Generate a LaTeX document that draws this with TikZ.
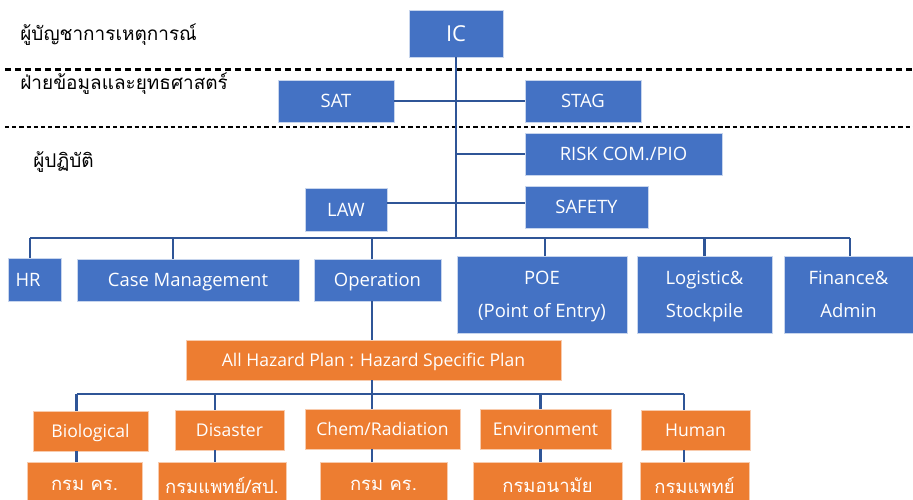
\documentclass[tikz,border=0pt]{standalone}
\usepackage{fontspec}
\setmainfont{Open Sans}
\newfontfamily\thaifont[Script=Thai]{Loma}
\definecolor{unitblue}{HTML}{4472C4}
\definecolor{planorange}{HTML}{ED7D31}
\definecolor{linkblue}{HTML}{2F5597}
\tikzset{
  unit/.style 2 args={fill=unitblue, draw=white!70!unitblue, text=white, align=center, inner sep=1pt,
    text depth=0pt, minimum width=#1cm, minimum height=#2cm, font=\fontsize{10.5}{19}\selectfont},
  plan/.style 2 args={unit={#1}{#2}, fill=planorange, draw=white!60!planorange, font=\fontsize{10}{14}\selectfont},
  dept/.style 2 args={plan={#1}{#2}, font=\thaifont\fontsize{10.5}{14}\selectfont},
  link/.style={draw=linkblue, line width=1.2pt},
  tier/.style={anchor=west, inner sep=0pt, font=\thaifont\fontsize{10.8}{14}\selectfont}
}
\begin{document}
\begin{tikzpicture}
\useasboundingbox (0,0) rectangle (18.26,-10);
\clip (0,0) rectangle (18.26,-10);
% levels
\draw[line width=1.7pt, dash pattern=on 3.4pt off 2.3pt] (0.1,-1.39) -- (18.26,-1.39);
\draw[line width=1.1pt, dash pattern=on 2.4pt off 1.7pt] (0.1,-2.54) -- (18.26,-2.54);
\node[tier] (cmd) at (0.40,-0.70) {ผู้บัญชาการเหตุการณ์};
\node[tier] (intel) at (0.40,-1.68) {ฝ่ายข้อมูลและยุทธศาสตร์};
\node[tier] (ops) at (0.66,-3.24) {ผู้ปฏิบัติ};
% command and staff
\node[unit={1.88}{0.94}, font=\fontsize{12.5}{15}\selectfont] (IC) at (9.12,-0.67) {IC};
\node[unit={2.32}{0.84}] (SAT) at (6.72,-2.02) {SAT};
\node[unit={2.32}{0.84}] (STAG) at (11.66,-2.02) {STAG};
\node[unit={3.94}{0.84}] (RISK) at (12.47,-3.08) {RISK COM./PIO};
\node[unit={2.46}{0.84}] (SAFETY) at (11.73,-4.14) {SAFETY};
\node[unit={1.64}{0.86}] (LAW) at (6.92,-4.19) {LAW};
% sections
\node[unit={1.06}{0.86}, text width=0.76cm, align=left] (HR) at (0.69,-5.59) {HR};
\node[unit={4.44}{0.84}] (Case) at (3.76,-5.60) {Case Management};
\node[unit={2.54}{0.84}] (Oper) at (7.55,-5.60) {Operation};
\node[unit={3.40}{1.54}] (POE) at (10.84,-5.89) {POE\\(Point of Entry)};
\node[unit={2.70}{1.54}] (Logi) at (14.09,-5.89) {Logistic\&\\Stockpile};
\node[unit={2.58}{1.54}] (Fin) at (16.97,-5.89) {Finance\&\\Admin};
% hazard plans
\node[plan={7.50}{0.80}] (All) at (7.47,-7.20) {All Hazard Plan : Hazard Specific Plan};
\node[plan={2.30}{0.80}] (Bio) at (1.81,-8.62) {Biological};
\node[plan={2.18}{0.80}] (Dis) at (4.59,-8.60) {Disaster};
\node[plan={3.10}{0.80}] (Chem) at (7.65,-8.58) {Chem/Radiation};
\node[plan={2.62}{0.80}] (Env) at (10.91,-8.58) {Environment};
\node[plan={2.18}{0.80}] (Hum) at (13.91,-8.60) {Human};
\node[dept={2.30}{0.92}] (Dept1) at (1.69,-9.70) {กรม คร.};
\node[dept={2.56}{0.92}] (Dept2) at (4.44,-9.70) {กรมแพทย์/สป.};
\node[dept={2.54}{0.92}] (Dept3) at (7.67,-9.70) {กรม คร.};
\node[dept={2.98}{0.92}] (Dept4) at (10.95,-9.70) {กรมอนามัย};
\node[dept={2.18}{0.92}] (Dept5) at (13.89,-9.70) {กรมแพทย์};
% links
\coordinate (bus) at (0,-4.76);
\coordinate (hbus) at (0,-7.88);
\draw[link] (IC.south) -- (IC.south |- bus);
\draw[link] (SAT.east) -- (STAG.west);
\draw[link] (RISK.west) -- (RISK.west -| IC.south);
\draw[link] ([yshift=0.13cm]LAW.east) -- ([yshift=0.13cm]LAW.east -| SAFETY.west);
\draw[link] ([xshift=-0.09cm]HR.north |- bus) -- ([xshift=0.03cm]Fin.north |- bus);
\foreach \n/\s in {HR/-0.09,Case/-0.30,Oper/-0.11,POE/0.06,Logi/0,Fin/0.03}
  \draw[link] ([xshift=\s cm]\n.north) -- ([xshift=\s cm]\n.north |- bus);
\draw[link] ([xshift=-0.11cm]Oper.south) -- ([xshift=-0.11cm]Oper.south |- All.north);
\draw[link] ([xshift=-0.03cm]All.south) -- ([xshift=-0.03cm]All.south |- hbus);
\draw[link] ([xshift=-0.28cm]Bio.north |- hbus) -- ([xshift=-0.23cm]Hum.north |- hbus);
\foreach \a/\b/\s in {Bio/Dept1/-0.28,Dis/Dept2/-0.29,Chem/Dept3/-0.21,Env/Dept4/-0.10,Hum/Dept5/-0.23} {
  \draw[link] ([xshift=\s cm]\a.north) -- ([xshift=\s cm]\a.north |- hbus);
  \draw[link] ([xshift=\s cm]\a.south) -- ([xshift=\s cm]\a.south |- \b.north);
}
\end{tikzpicture}
\end{document}
